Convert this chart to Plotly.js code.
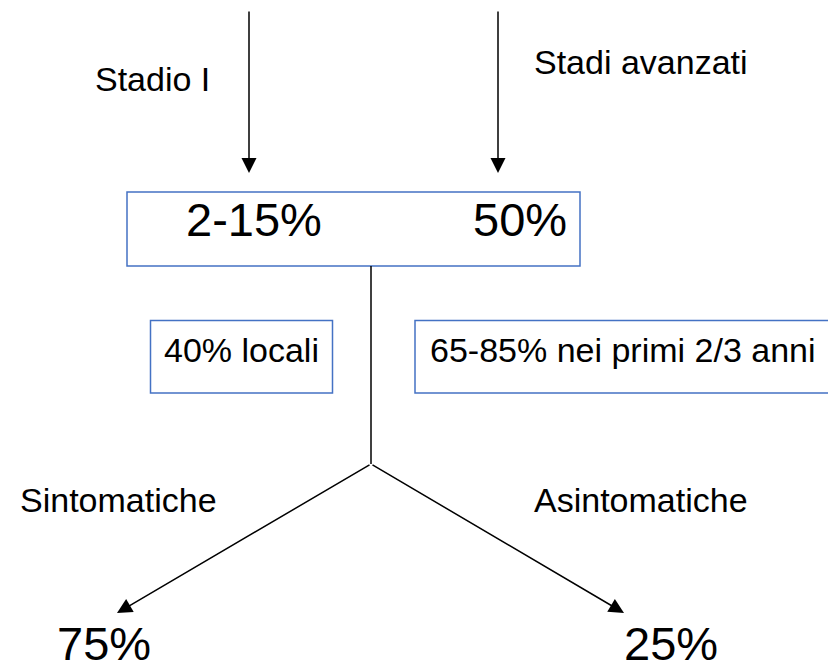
<!DOCTYPE html>
<html>
<head>
<meta charset="utf-8">
<script src="https://cdn.plot.ly/plotly-3.0.1.min.js"></script>
<style>html,body{margin:0;padding:0;background:#fff;}#chart{width:828px;height:664px;}</style>
</head>
<body>
<div id="chart"></div>
<script>
// ---- content ----
const stageLabels = ['Stadio I', 'Stadi avanzati'];
const recurrenceValues = ['2-15%', '50%'];
const recurrenceNotes = ['40% locali', '65-85% nei primi 2/3 anni'];
const branchLabels = ['Sintomatiche', 'Asintomatiche'];
const branchValues = ['75%', '25%'];

// ---- layout geometry (pixel-like coordinates on a 828x664 canvas) ----
const geo = {
  stageLabelPos: [[152.5, 79], [641, 62]],
  stageArrowX: [249, 498], stageArrowTop: 10, stageArrowTip: 173,
  mainBox: [127, 192, 580, 266],
  valuePos: [[253.5, 219], [519.5, 219]],
  noteBoxes: [[150.5, 320.5, 332.5, 393], [415, 320.5, 845, 393]],
  notePos: [[241.5, 350], [622.5, 350]],
  stemX: 371, branchY: 464,
  branchTips: [[117, 613], [624, 613]],
  branchLabelPos: [[118.5, 500], [640.5, 500]],
  branchValuePos: [[103.5, 643.5], [671, 643.5]]
};

const FONT = 'Liberation Sans, Arial, sans-serif';
const BLUE = '#4472c4';
const shapes = [];
const annotations = [];

function rect(b) {
  shapes.push({type: 'rect', xref: 'x', yref: 'y', x0: b[0], y0: b[1], x1: b[2], y1: b[3],
    line: {color: BLUE, width: 1.5}, fillcolor: 'rgba(0,0,0,0)'});
}
function label(text, p, size) {
  annotations.push({text: text, x: p[0], y: p[1], xref: 'x', yref: 'y', showarrow: false,
    xanchor: 'center', yanchor: 'middle', font: {family: FONT, size: size, color: '#000'}});
}
function arrow(x0, y0, x1, y1) {
  annotations.push({text: '', x: x1, y: y1, ax: x0, ay: y0, xref: 'x', yref: 'y', axref: 'x', ayref: 'y',
    showarrow: true, arrowhead: 2, arrowsize: 2, arrowwidth: 1.5, arrowcolor: '#000', standoff: 0, startstandoff: 0});
}

// stage arrows + labels
stageLabels.forEach((t, i) => {
  label(t, geo.stageLabelPos[i], 34);
  arrow(geo.stageArrowX[i], geo.stageArrowTop, geo.stageArrowX[i], geo.stageArrowTip);
});
// main box with values
rect(geo.mainBox);
recurrenceValues.forEach((t, i) => label(t, geo.valuePos[i], 47));
// stem line
shapes.push({type: 'line', xref: 'x', yref: 'y', x0: geo.stemX, y0: geo.mainBox[3], x1: geo.stemX, y1: geo.branchY,
  line: {color: '#000', width: 1.5}});
// note boxes
recurrenceNotes.forEach((t, i) => { rect(geo.noteBoxes[i]); label(t, geo.notePos[i], 34); });
// branches
branchLabels.forEach((t, i) => {
  label(t, geo.branchLabelPos[i], 34);
  arrow(geo.stemX, geo.branchY, geo.branchTips[i][0], geo.branchTips[i][1]);
  label(branchValues[i], geo.branchValuePos[i], 47);
});

const layout = {
  width: 828, height: 664,
  margin: {l: 0, r: 0, t: 0, b: 0, pad: 0},
  paper_bgcolor: '#ffffff', plot_bgcolor: '#ffffff',
  xaxis: {range: [0, 828], visible: false, fixedrange: true},
  yaxis: {range: [664, 0], visible: false, fixedrange: true},
  showlegend: false, hovermode: false,
  shapes: shapes, annotations: annotations
};
Plotly.newPlot('chart', [{type: 'scatter', x: [], y: [], mode: 'markers'}], layout, {staticPlot: true, displayModeBar: false});
</script>
</body>
</html>
